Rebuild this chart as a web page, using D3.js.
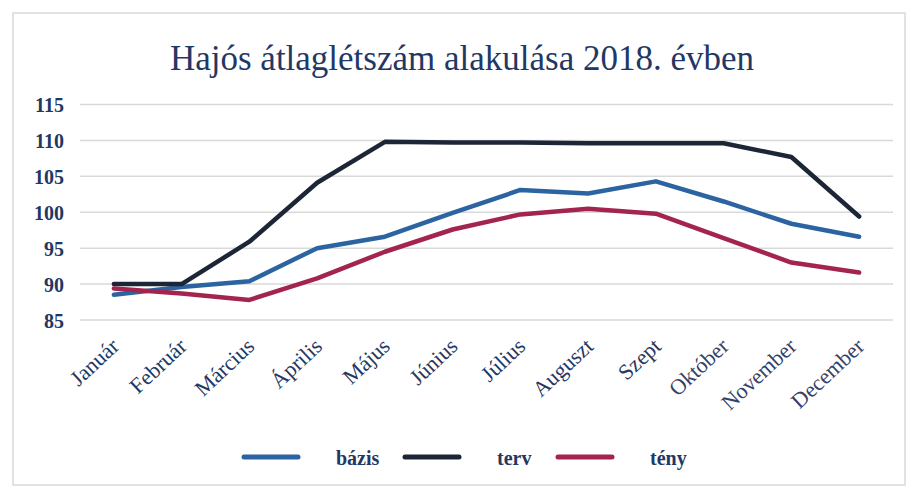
<!DOCTYPE html>
<html><head><meta charset="utf-8">
<script src="https://cdn.jsdelivr.net/npm/d3@7"></script>
<style>html,body{margin:0;padding:0;background:#fff;}svg{display:block;}</style>
</head><body>
<svg id="c" width="908" height="488"></svg>
<script>
const months = ["Január","Február","Március","Április","Május","Június","Július","Auguszt","Szept","Október","November","December"];
const bazis = [88.5, 89.6, 90.4, 95.0, 96.6, 99.9, 103.1, 102.6, 104.3, 101.5, 98.4, 96.6];
const terv  = [90.0, 90.0, 95.9, 104.1, 109.8, 109.7, 109.7, 109.6, 109.6, 109.6, 107.7, 99.4];
const teny  = [89.4, 88.7, 87.8, 90.8, 94.5, 97.6, 99.7, 100.5, 99.8, 96.4, 93.0, 91.6];
const yTicks = [85, 90, 95, 100, 105, 110, 115];
const seriesNames = ["bázis", "terv", "tény"];
const seriesColors = ["#2b64a0", "#1d2636", "#a3244c"];
const title = "Hajós átlaglétszám alakulása 2018. évben";

const svg = d3.select("#c");
const navy = "#1f3864";
const font = "'Liberation Serif','Times New Roman',serif";

svg.append("rect").attr("x", 13).attr("y", 13).attr("width", 892).attr("height", 472)
  .attr("fill", "#fff").attr("stroke", "#d9d9d9").attr("stroke-width", 1.5);

svg.append("text").attr("x", 462).attr("y", 70).attr("text-anchor", "middle")
  .attr("font-family", font).attr("font-size", 35).attr("fill", navy).text(title);

const x = d3.scalePoint().domain(months).range([80, 893]).padding(0.5);
const y = d3.scaleLinear().domain([85, 115]).range([320, 104.5]);

const grid = svg.append("g");
grid.selectAll("line").data(yTicks).join("line")
  .attr("x1", 80).attr("x2", 893)
  .attr("y1", d => y(d)).attr("y2", d => y(d))
  .attr("stroke", "#d9d9d9").attr("stroke-width", 1.5);

const yAxis = svg.append("g").attr("transform", "translate(64,0)")
  .call(d3.axisLeft(y).tickValues(yTicks).tickSize(0).tickPadding(0));
yAxis.select(".domain").remove();
yAxis.selectAll("text").attr("font-family", font).attr("font-size", 20)
  .attr("font-weight", "bold").attr("fill", navy).attr("dy", "0.35em");

const xAxis = svg.append("g").attr("transform", "translate(0,330)")
  .call(d3.axisBottom(x).tickSize(0).tickPadding(0));
xAxis.select(".domain").remove();
xAxis.selectAll("text")
  .attr("font-family", font).attr("font-size", 22)
  .attr("fill", (d, i) => i >= 9 ? "#34426a" : navy)
  .attr("text-anchor", "end")
  .attr("dy", 0)
  .attr("transform", "translate(6,18) rotate(-43)");

const line = d3.line().x((d, i) => x(months[i])).y(d => y(d));
const data = [bazis, terv, teny];
svg.append("g").selectAll("path").data(data).join("path")
  .attr("d", d => line(d))
  .attr("fill", "none")
  .attr("stroke", (d, i) => seriesColors[i])
  .attr("stroke-width", 4.5)
  .attr("stroke-linejoin", "round")
  .attr("stroke-linecap", "round");

const legendX = [244, 405, 558];
const lg = svg.append("g");
seriesNames.forEach((n, i) => {
  lg.append("line").attr("x1", legendX[i]).attr("x2", legendX[i] + 54)
    .attr("y1", 457).attr("y2", 457)
    .attr("stroke", seriesColors[i]).attr("stroke-width", 5).attr("stroke-linecap", "round");
  lg.append("text").attr("x", legendX[i] + 92).attr("y", 465)
    .attr("font-family", font).attr("font-size", 20).attr("font-weight", "bold")
    .attr("fill", navy).text(n);
});
</script>
</body></html>
